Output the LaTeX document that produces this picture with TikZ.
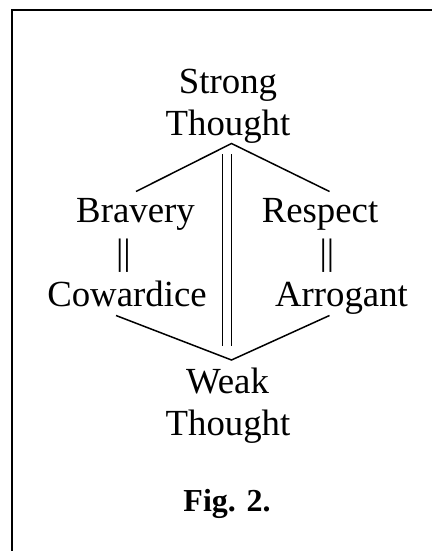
\documentclass[tikz,border=0pt]{standalone}
\usepackage{fontspec}
\setmainfont{Liberation Serif}
\usetikzlibrary{calc}

\tikzset{
  word/.style={anchor=base, inner sep=0pt, font=\fontsize{36.8}{42}\selectfont},
  caption/.style={anchor=base, inner sep=0pt, font=\fontsize{32}{38}\selectfont\bfseries}
}

\begin{document}
\begin{tikzpicture}[x=1pt, y=-1pt, line width=1.5pt]
    \useasboundingbox (0,0) rectangle (432,551);

    % Frame (only top and left edges show)
    \draw[line width=2pt] (11.5,551) -- (11.5,10) -- (432,10);

    % Top and bottom words
    \node[word] (strong) at (228,93) {Strong};
    \node[word] (thoughtA) at (228,135) {Thought};
    \node[word] (weak) at (227.5,393) {Weak};
    \node[word] (thoughtB) at (228,435) {Thought};

    % Left column
    \node[word] (bravery) at (135.5,222) {Bravery};
    \node[word] (barsL) at (123.4,264) {||};
    \node[word] (cowardice) at (127,306) {Cowardice};

    % Right column
    \node[word] (respect) at (320,222) {Respect};
    \node[word] (barsR) at (327,264) {||};
    \node[word] (arrogant) at (341.5,306) {Arrogant};

    \node[caption] (fig) at (227,511) {Fig. 2.};

    % Apexes and free ends
    \coordinate (top) at (231.5,143.5);
    \coordinate (bot) at (231.5,360);
    \coordinate (tl) at (136,191.5);
    \coordinate (tr) at (329.5,191.5);
    \coordinate (bl) at (116,315.5);
    \coordinate (br) at (329.5,315.5);
    \draw (tl) -- (top) -- (tr);
    \draw (bl) -- (bot) -- (br);

    % Double line down the middle
    \coordinate (midA) at (222.5,154);
    \coordinate (midB) at (222.5,346);
    \draw (midA) -- (midB);
    \draw ($(midA)+(9,0)$) -- ($(midB)+(9,0)$);
\end{tikzpicture}
\end{document}
